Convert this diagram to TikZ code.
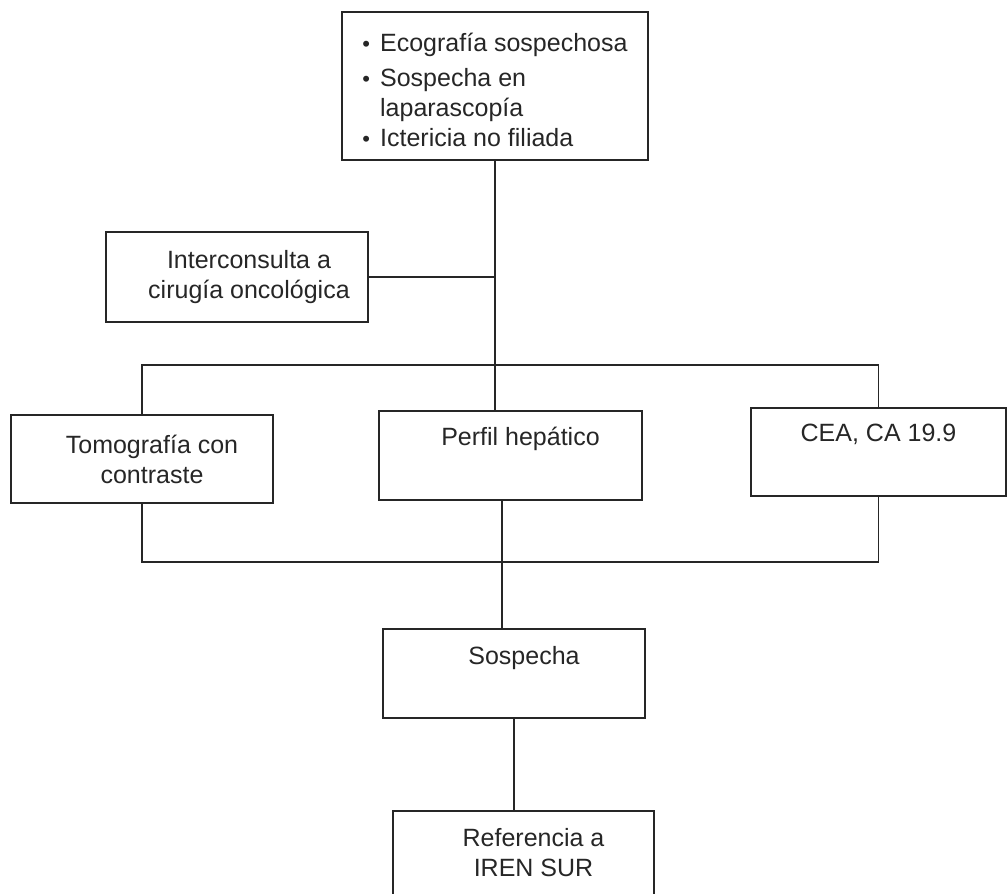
\documentclass[tikz,border=0pt]{standalone}
\usepackage{fontspec}
\setmainfont{Liberation Sans}
\newcommand{\puntito}{\raisebox{0.3pt}{\fontsize{11}{11}\selectfont\textbullet}\hspace{5pt}}
\begin{document}
\begin{tikzpicture}[x=0.5pt, y=-0.5pt, line width=0.8pt, color=black!85,
  box/.style={draw, rectangle, font={\fontsize{12.5}{15}\selectfont}, align=center},
  topbox/.style={box, anchor=north, inner ysep=0pt}]
\useasboundingbox (0,0) rectangle (1008,894);
\node[box, minimum width=153pt, minimum height=74pt, align=left] (sintomas) at (495,86){\rule{0pt}{13.5pt}\puntito Ecografía sospechosa\\[2.5pt]
\puntito Sospecha en\\
\hphantom{\puntito}laparascopía\\
\puntito Ictericia no filiada};
\node[box, minimum width=131pt, minimum height=45pt] (interc) at (237,277){\hspace{12pt}Interconsulta a\\\hspace{12pt}cirugía oncológica};
\node[box, minimum width=131pt, minimum height=44pt] (tomo) at (142,459){\hspace{10pt}Tomografía con\\\hspace{10pt}contraste};
\node[topbox, minimum width=131.5pt, text height=17.5pt, text depth=27pt] (perfil) at (510.5,410){\hspace{10pt}Perfil hepático};
\node[topbox, minimum width=127.5pt, text height=17pt, text depth=27pt] (cea) at (878.5,407){CEA, CA 19.9};
\node[topbox, minimum width=131pt, text height=18pt, text depth=26.5pt] (sosp) at (514,628){\hspace{10pt}Sospecha};
\node[topbox, minimum width=130.5pt, text height=18pt, text depth=60pt] (refer) at (523.5,810){\begin{tabular}[t]{@{}c@{}}\hspace{10pt}Referencia a\\\hspace{10pt}IREN SUR\end{tabular}};
\coordinate (busarr) at (495,365);
\coordinate (busab) at (502,562);
\draw[](sintomas.south) -- (sintomas.south |- perfil.north);
\draw[](interc.east) -- (interc.east -| sintomas.south);
\draw[](tomo.north) |- (busarr) -| (cea.north);
\draw[](tomo.south) |- (busab) -| (cea.south);
\draw[](busab |- perfil.south) -- (busab |- sosp.north);
\draw[](sosp.south) -- (sosp.south |- refer.north);

\end{tikzpicture}
\end{document}
